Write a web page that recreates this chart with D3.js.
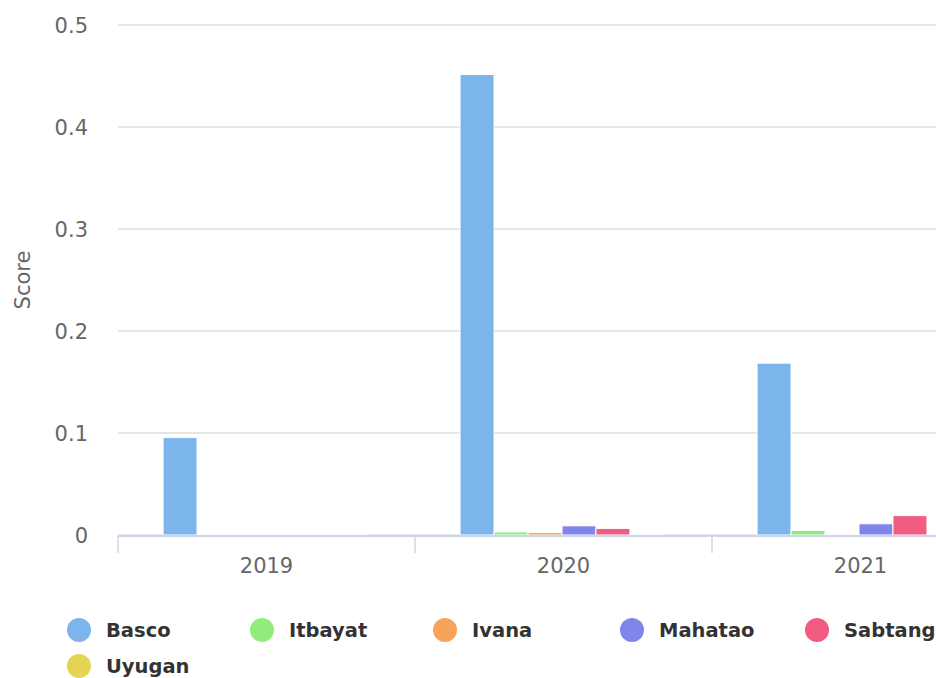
<!DOCTYPE html>
<html>
<head>
<meta charset="utf-8">
<script src="https://cdn.jsdelivr.net/npm/d3@7"></script>
<style>
  html, body { margin: 0; padding: 0; background: #fff; overflow: hidden; }
  svg { display: block; font-family: "DejaVu Sans", sans-serif; }
</style>
</head>
<body>
<div id="chart"></div>
<script>
// data
const years = ["2019", "2020", "2021"];
const seriesNames = ["Basco", "Itbayat", "Ivana", "Mahatao", "Sabtang", "Uyugan"];
const basco   = [0.095, 0.451, 0.168];
const itbayat = [0, 0.0025, 0.004];
const ivana   = [0, 0.002, 0];
const mahatao = [0, 0.0085, 0.0105];
const sabtang = [0, 0.006, 0.0185];
const uyugan  = [0, 0, 0];
const yTicks = [0, 0.1, 0.2, 0.3, 0.4, 0.5];
const colors = ["#7cb5ec", "#90ed7d", "#f7a35c", "#8085e9", "#f15c80", "#e4d354"];

const seriesValues = [basco, itbayat, ivana, mahatao, sabtang, uyugan];

const W = 936, H = 678;
const margin = {top: 25, left: 118};
const plotW = 891;   // plot runs past the right edge of the window
const plotH = 510;

const svg = d3.select("#chart")
  .append("svg")
    .attr("width", W)
    .attr("height", H);

const g = svg.append("g")
  .attr("transform", `translate(${margin.left},${margin.top})`);

const x0 = d3.scaleBand()
  .domain(years)
  .range([0, plotW])
  .paddingInner(0)
  .paddingOuter(0);

const x1 = d3.scaleBand()
  .domain(seriesNames)
  .range([-1.5, x0.bandwidth() - 1.5])
  .paddingOuter(1.37)
  .paddingInner(0);

const y = d3.scaleLinear()
  .domain([0, 0.5])
  .range([plotH, 0]);

// grid lines
g.append("g")
  .selectAll("line")
  .data(yTicks)
  .join("line")
    .attr("x1", 0)
    .attr("x2", plotW)
    .attr("y1", d => y(d))
    .attr("y2", d => y(d))
    .attr("stroke", "#e6e6e6")
    .attr("stroke-width", 2);

// y labels
g.append("g")
  .selectAll("text")
  .data(yTicks)
  .join("text")
    .attr("x", -30)
    .attr("y", d => y(d))
    .attr("dy", "0.36em")
    .attr("text-anchor", "end")
    .attr("font-size", 21)
    .attr("fill", "#666666")
    .text(d => d === 0 ? "0" : d3.format(".1f")(d));

// y title
svg.append("text")
  .attr("transform", `translate(30,280) rotate(-90)`)
  .attr("text-anchor", "middle")
  .attr("font-size", 21)
  .attr("fill", "#666666")
  .text("Score");

// bars
const groups = g.append("g")
  .selectAll("g")
  .data(years)
  .join("g")
    .attr("transform", d => `translate(${x0(d)},0)`);

groups.selectAll("rect")
  .data((yr, i) => seriesNames.map((s, j) => ({s, j, v: seriesValues[j][i]})))
  .join("rect")
    .attr("x", d => x1(d.s))
    .attr("width", x1.bandwidth())
    .attr("y", d => y(d.v) - 0.5)
    .attr("height", d => Math.max(0, plotH - y(d.v)) + 0.5)
    .attr("fill", d => colors[d.j])
    .attr("stroke", "#ffffff")
    .attr("stroke-width", 1);

// x axis
const xAxis = g.append("g")
  .attr("transform", `translate(0,${plotH + 1})`);

xAxis.append("line")
  .attr("x1", 0)
  .attr("x2", plotW)
  .attr("stroke", "#ccd6eb")
  .attr("stroke-width", 2);

xAxis.selectAll("line.tick")
  .data(years.map(d => x0(d)).concat([plotW]))
  .join("line")
    .attr("class", "tick")
    .attr("x1", d => d)
    .attr("x2", d => d)
    .attr("y1", 0)
    .attr("y2", 17)
    .attr("stroke", "#ccd6eb")
    .attr("stroke-width", 1.5);

xAxis.selectAll("text")
  .data(years)
  .join("text")
    .attr("x", d => x0(d) + x0.bandwidth() / 2)
    .attr("y", 29)
    .attr("dy", "0.36em")
    .attr("text-anchor", "middle")
    .attr("font-size", 21)
    .attr("fill", "#666666")
    .text(d => d);

// legend
const legendX = [79, 262, 445, 632, 817, 79];
const legendY = [630, 630, 630, 630, 630, 666];

const legend = svg.append("g")
  .selectAll("g")
  .data(seriesNames)
  .join("g")
    .attr("transform", (d, i) => `translate(${legendX[i]},${legendY[i]})`);

legend.append("circle")
  .attr("r", 12)
  .attr("fill", (d, i) => colors[i]);

legend.append("text")
  .attr("x", 27)
  .attr("dy", "0.36em")
  .attr("font-size", 19.5)
  .attr("font-weight", "bold")
  .attr("fill", "#333333")
  .text(d => d);
</script>
</body>
</html>
